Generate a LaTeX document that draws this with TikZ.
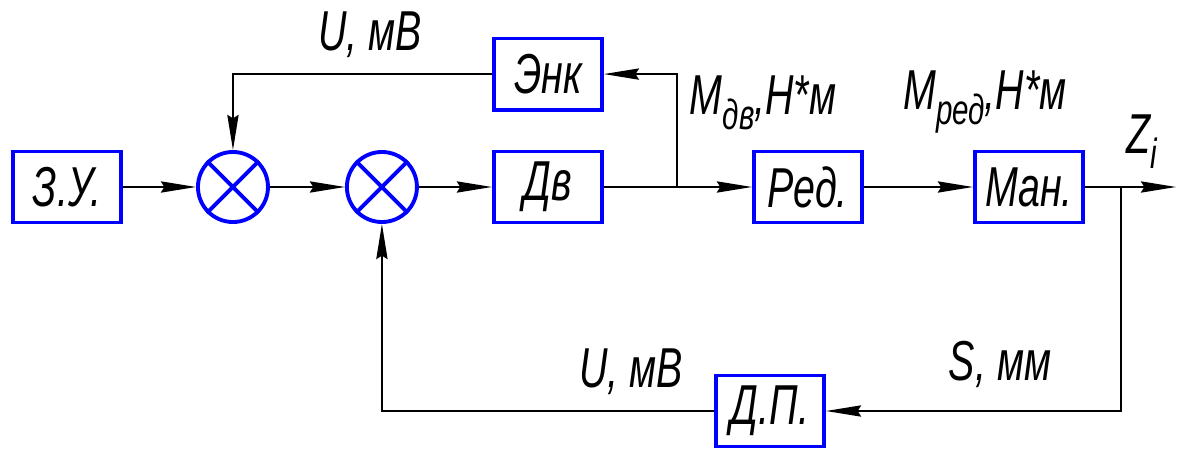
\documentclass[tikz,border=0pt]{standalone}
\usepackage{fontspec}
\newfontfamily\gostfont{Liberation Sans}[FakeStretch=0.7]
\usetikzlibrary{arrows.meta,positioning}

\begin{document}
\begin{tikzpicture}[
    x=0.01cm, y=-0.01cm,
    every node/.style={font=\gostfont\itshape\fontsize{16}{19}\selectfont},
    block/.style={draw=blue, line width=1.1pt, minimum width=1.08cm, minimum height=0.71cm, inner sep=0pt},
    summer/.style={draw=blue, line width=1.1pt, circle, minimum size=0.70cm, inner sep=0pt},
    cross/.style={blue, line width=1.1pt},
    flow/.style={-{Stealth[length=10pt,width=3.2pt,inset=1pt]}, line width=0.5pt},
    wire/.style={line width=0.5pt}
]
\useasboundingbox (0,0) rectangle (1177,452);
% forward chain
\node[block] (zu) at (67,187) {З.У.};
\node[summer, right=0.73cm of zu] (s1) {};
\node[summer, right=0.75cm of s1] (s2) {};
\node[block, right=0.73cm of s2] (dv) {Дв};
\node[block, above=0.38cm of dv] (enk) {Энк};
\node[block, right=1.48cm of dv] (red) {Ред.};
\node[block, right=1.09cm of red] (man) {Ман.};
\node[block] (dp) at (770,411) {Д.П.};
\foreach \s in {s1,s2} {
  \draw[cross] (\s.north east) -- (\s.south west);
  \draw[cross] (\s.north west) -- (\s.south east);
}
% branch points and free end
\coordinate (tapdv) at (677,187);
\coordinate (tapman) at (1121,187);
\coordinate (out) at (1176,187);
% labels
\node (lblu1) at (370,35) {U, мВ};
\node (lblmdv) at (763,103) {M\raisebox{-0.5ex}{\fontsize{12}{13}\selectfont дв},Н*м};
\node (lblmred) at (985,102) {M\raisebox{-0.5ex}{\fontsize{12}{13}\selectfont ред},Н*м};
\node (lblz) at (1142,142) {Z\raisebox{-0.5ex}{\fontsize{12}{13}\selectfont i}};
\node (lblu2) at (631,372) {U, мВ};
\node (lbls) at (1000,364) {S, мм};
% connectors
\draw[flow] (zu) -- (s1);
\draw[flow] (s1) -- (s2);
\draw[flow] (s2) -- (dv);
\draw[wire] (dv.east) -- (tapdv);
\draw[flow] (tapdv) -- (red.west);
\draw[flow] (tapdv) |- (enk.east);
\draw[flow] (enk.west) -| (s1.north);
\draw[flow] (red) -- (man);
\draw[flow] (man.east) -- (out);
\draw[flow] (tapman) |- (dp.east);
\draw[flow] (dp.west) -| (s2.south);
\end{tikzpicture}
\end{document}
